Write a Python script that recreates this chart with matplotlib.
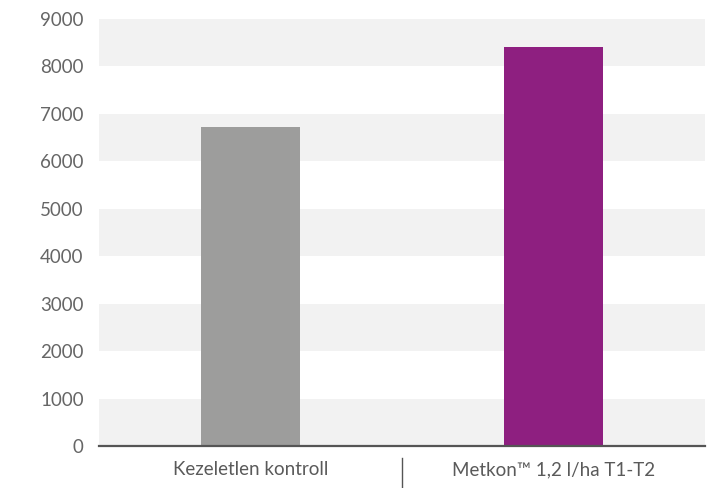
import matplotlib
matplotlib.use("Agg")
from matplotlib import pyplot as plt
import matplotlib.transforms as mtransforms

categories = ["Kezeletlen kontroll", "Metkon™ 1,2 l/ha T1-T2"]
values = [6730, 8400]
colors = ["#9d9d9c", "#8e1f80"]
yticks = [0, 1000, 2000, 3000, 4000, 5000, 6000, 7000, 8000, 9000]

plt.rcParams['font.family'] = ['Lato', 'DejaVu Sans']

fig = plt.figure(figsize=(7.12, 4.88), dpi=100)
ax = fig.add_axes([99 / 712, 42 / 488, 606 / 712, 427 / 488])

# alternating grey bands
for lo in yticks[:-1:2]:
    ax.axhspan(lo, lo + 1000, color="#f2f2f2", lw=0, zorder=0)

x = range(len(categories))
ax.bar(x, values, width=0.325, color=colors, zorder=2)

ax.set_xlim(-0.5, 1.5)
ax.set_ylim(0, 9000)
ax.set_yticks(yticks)
ax.set_yticklabels([str(v) for v in yticks], fontsize=13.5, color="#666666")
ax.tick_params(axis="y", length=0, pad=11)
ax.set_xticks(list(x))
ax.set_xticklabels(categories, fontsize=13.5, color="#5a5a5a")
ax.tick_params(axis="x", length=0, pad=11)

for side in ["top", "right", "left"]:
    ax.spines[side].set_visible(False)
ax.spines["bottom"].set_color("#555555")
ax.spines["bottom"].set_linewidth(1.6)
ax.spines["bottom"].set_zorder(3)

# divider between category labels
trans = mtransforms.blended_transform_factory(ax.transData, ax.transAxes)
ax.plot([0.5, 0.5], [-0.028, -0.1], transform=trans, color="#555555",
        lw=1, clip_on=False)

fig.savefig("out.png", dpi=100)
